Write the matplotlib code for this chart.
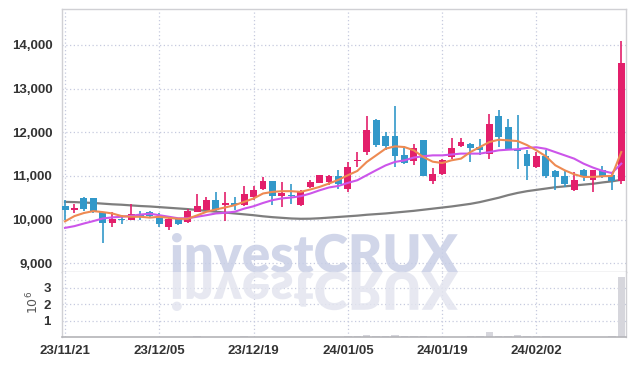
import numpy as np
import matplotlib
matplotlib.use("Agg")
import matplotlib.pyplot as plt
from matplotlib.textpath import TextPath
from matplotlib.font_manager import FontProperties
from matplotlib.patches import PathPatch
from matplotlib.transforms import Affine2D

# ---------------- data ----------------
dates = ["23/11/21", "23/11/22", "23/11/23", "23/11/24", "23/11/27", "23/11/28", "23/11/29", "23/11/30",
         "23/12/01", "23/12/04", "23/12/05", "23/12/06", "23/12/07", "23/12/08", "23/12/11", "23/12/12",
         "23/12/13", "23/12/14", "23/12/15", "23/12/18", "23/12/19", "23/12/20", "23/12/21", "23/12/22",
         "23/12/26", "23/12/27", "23/12/28", "24/01/02", "24/01/03", "24/01/04", "24/01/05", "24/01/08",
         "24/01/09", "24/01/10", "24/01/11", "24/01/12", "24/01/15", "24/01/16", "24/01/17", "24/01/18",
         "24/01/19", "24/01/22", "24/01/23", "24/01/24", "24/01/25", "24/01/26", "24/01/29", "24/01/30",
         "24/01/31", "24/02/01", "24/02/02", "24/02/05", "24/02/06", "24/02/07", "24/02/08", "24/02/13",
         "24/02/14", "24/02/15", "24/02/16", "24/02/19"]

opens = [10300, 10230, 10490, 10490, 10170, 9930, 10020, 9990, 10100, 10170,
         10030, 9840, 10010, 9940, 10180, 10217, 10445, 10330, 10370, 10330,
         10506, 10700, 10880, 10543, 10560, 10330, 10750, 10840, 10870, 10990,
         10710, 11350, 11546, 12290, 11905, 11905, 11470, 11340, 11813, 10885,
         11037, 11432, 11683, 11737, 11660, 11510, 12360, 12130, 11623, 11493,
         11204, 11448, 11113, 11000, 10673, 11144, 10900, 11128, 11015, 10885]
highs = [10445, 10350, 10510, 10500, 10180, 10170, 10100, 10350, 10200, 10190,
         10150, 10030, 10020, 10250, 10575, 10510, 10640, 10630, 10510, 10760,
         10770, 10975, 10890, 10855, 10810, 10675, 10915, 11030, 11020, 11130,
         11320, 11546, 12360, 12300, 12000, 12590, 11675, 11737, 11830, 11180,
         11390, 11865, 11865, 11750, 11835, 12420, 12500, 12300, 12383, 11585,
         11546, 11600, 11144, 11144, 11090, 11150, 11144, 11220, 11060, 14077]
lows = [9990, 10140, 10200, 10140, 9460, 9820, 9910, 9980, 9990, 10040,
        9840, 9760, 9870, 9930, 10170, 10210, 10200, 9970, 10230, 10320,
        10445, 10670, 10330, 10290, 10350, 10320, 10720, 10830, 10790, 10710,
        10635, 11204, 11470, 11660, 11585, 11205, 11265, 11243, 10990, 10825,
        11030, 11395, 11670, 11318, 11470, 11395, 11660, 11590, 11167, 10900,
        11190, 10960, 10673, 10750, 10660, 10885, 10634, 10960, 10673, 10810]
closes = [10220, 10260, 10250, 10170, 9930, 10020, 9990, 10125, 10060, 10080,
          9900, 10010, 9900, 10195, 10310, 10445, 10220, 10380, 10330, 10580,
          10673, 10880, 10535, 10597, 10530, 10635, 10855, 11020, 10990, 10825,
          11205, 11372, 12040, 11715, 11685, 11450, 11295, 11645, 11000, 11037,
          11372, 11646, 11767, 11637, 11600, 12177, 11890, 11615, 11570, 11227,
          11448, 10992, 10976, 10810, 10900, 10976, 11128, 10992, 10885, 13590]

ma_short = [9960, 10080, 10150, 10194, 10171, 10141, 10080, 10064, 10064, 10045,
            10064, 10040, 10018, 10018, 10096, 10178, 10232, 10278, 10330, 10406,
            10483, 10597, 10634, 10650, 10650, 10634, 10688, 10748, 10825, 10910,
            11015, 11113, 11318, 11470, 11623, 11676, 11660, 11585, 11432, 11325,
            11295, 11357, 11395, 11546, 11660, 11774, 11828, 11813, 11797, 11705,
            11585, 11448, 11243, 11128, 11037, 10976, 10976, 10992, 10999, 11546]
ma_mid = [9810, 9850, 9910, 9965, 10025, 10050, 10065, 10085, 10115, 10135,
          10100, 10065, 10030, 10030, 10065, 10100, 10140, 10155, 10180, 10250,
          10305, 10380, 10445, 10485, 10505, 10535, 10595, 10670, 10735, 10770,
          10840, 10900, 11015, 11130, 11240, 11320, 11355, 11420, 11450, 11470,
          11470, 11490, 11510, 11510, 11510, 11545, 11585, 11600, 11610, 11640,
          11655, 11620, 11545, 11470, 11395, 11280, 11190, 11115, 11065, 11280]
ma_long = [10405, 10400, 10390, 10380, 10365, 10350, 10340, 10325, 10310, 10300,
           10285, 10270, 10255, 10240, 10220, 10200, 10180, 10160, 10140, 10120,
           10100, 10075, 10055, 10040, 10025, 10018, 10020, 10030, 10045, 10060,
           10075, 10090, 10110, 10125, 10140, 10160, 10180, 10200, 10225, 10250,
           10275, 10300, 10330, 10360, 10400, 10450, 10500, 10560, 10610, 10650,
           10680, 10710, 10740, 10760, 10780, 10800, 10820, 10850, 10875, 10910]
volume_m = [0.03, 0.02, 0.02, 0.02, 0.03, 0.02, 0.02, 0.02, 0.02, 0.02,
            0.02, 0.02, 0.02, 0.02, 0.06, 0.03, 0.02, 0.02, 0.02, 0.06,
            0.03, 0.02, 0.02, 0.02, 0.02, 0.02, 0.02, 0.02, 0.02, 0.03,
            0.04, 0.05, 0.15, 0.06, 0.05, 0.14, 0.04, 0.05, 0.05, 0.03,
            0.03, 0.03, 0.03, 0.04, 0.05, 0.28, 0.06, 0.05, 0.12, 0.05,
            0.04, 0.08, 0.03, 0.03, 0.03, 0.03, 0.03, 0.03, 0.04, 3.62]

price_ticks = [9000, 10000, 11000, 12000, 13000, 14000]
volume_ticks = [1, 2, 3]

# ---------------- style ----------------
UP = "#e31f6b"
DOWN = "#3298c9"
GRID = "#c6cadf"
LABEL_FONT = ["Liberation Sans", "DejaVu Sans"]
LABEL_SIZE = 9.5

W, H = 634, 366
fig = plt.figure(figsize=(W / 100, H / 100), dpi=100)
L, R = 62 / W, 626 / W
ax = fig.add_axes([L, (H - 272) / H, R - L, (272 - 9) / H])
axv = fig.add_axes([L, (H - 337) / H, R - L, (337 - 272) / H], sharex=ax)

x = np.arange(len(dates))
o = np.array(opens); c = np.array(closes); hi = np.array(highs); lo = np.array(lows)
cols = [UP if cc >= oo else DOWN for oo, cc in zip(o, c)]

ax.vlines(x, lo, hi, colors=cols, lw=1.2, zorder=3)
ax.bar(x, np.maximum(np.abs(c - o), 25), bottom=np.minimum(o, c), width=0.74,
       color=cols, zorder=4, linewidth=0)

ax.plot(x, ma_long, color="#7e7e7e", lw=1.6, zorder=2)
ax.plot(x, ma_mid, color="#cc55ea", lw=1.5, zorder=5)
ax.plot(x, ma_short, color="#ee8a52", lw=1.5, zorder=5)

axv.bar(x, volume_m, width=0.8, color="#d6d6dc", zorder=2)

ax.set_xlim(-0.32, 59.5)
ax.set_ylim(8800, 14820)
axv.set_ylim(0, 3.95)

for a in (ax, axv):
    a.grid(True, linestyle=(0, (1, 2)), color=GRID, lw=0.9)
    a.set_axisbelow(True)
    a.tick_params(length=0, colors="#333333")
    for s in a.spines.values():
        s.set_color("#d0d0d4")
        s.set_linewidth(1.0)

ax.set_yticks(price_ticks)
ax.set_yticklabels([f"{v:,}" for v in price_ticks], fontfamily=LABEL_FONT,
                   fontsize=LABEL_SIZE, fontweight="bold", color="#333333")
ax.tick_params(axis="y", pad=7)
ax.tick_params(axis="x", labelbottom=False)
ax.spines["bottom"].set_color("#c4c4c8")

axv.spines["top"].set_visible(False)
axv.spines["bottom"].set_color("#b4b4b8")
axv.spines["bottom"].set_linewidth(1.2)
axv.set_yticks(volume_ticks)
axv.set_yticklabels([str(v) for v in volume_ticks], fontfamily=LABEL_FONT,
                    fontsize=LABEL_SIZE, fontweight="bold", color="#333333")
axv.tick_params(axis="y", pad=8)
tick_pos = list(range(0, len(dates), 10))
axv.set_xticks(tick_pos)
axv.set_xticklabels([dates[i] for i in tick_pos], fontfamily=LABEL_FONT,
                    fontsize=LABEL_SIZE, fontweight="bold", color="#333333")
axv.tick_params(axis="x", pad=6)

fig.text(33 / W, (H - 302) / H, r"$10^6$", rotation=90, ha="center", va="center",
         fontsize=9, color="#555555")

# ---------------- watermark ----------------
fp = FontProperties(family=["Lato", "DejaVu Sans"], weight="heavy")
tp = TextPath((0, 0), "investCRUX", size=100, prop=fp)
ext = tp.get_extents()
sx = 286 / ext.width
sy = 39 / ext.y1
base = Affine2D().translate(-ext.x0, 0)
main_tr = base + Affine2D().scale(sx, sy).translate(172, H - 272) + Affine2D().scale(1 / W, 1 / H) + fig.transFigure
refl_tr = base + Affine2D().scale(sx, -sy).translate(172, H - 272) + Affine2D().scale(1 / W, 1 / H) + fig.transFigure
fig.add_artist(PathPatch(tp, transform=main_tr, facecolor="#c9cfe6", edgecolor="none", alpha=0.85, zorder=1))
fig.add_artist(PathPatch(tp, transform=refl_tr, facecolor="#e3e5ef", edgecolor="none", alpha=0.85, zorder=1))

fig.savefig("out.png", dpi=100)
